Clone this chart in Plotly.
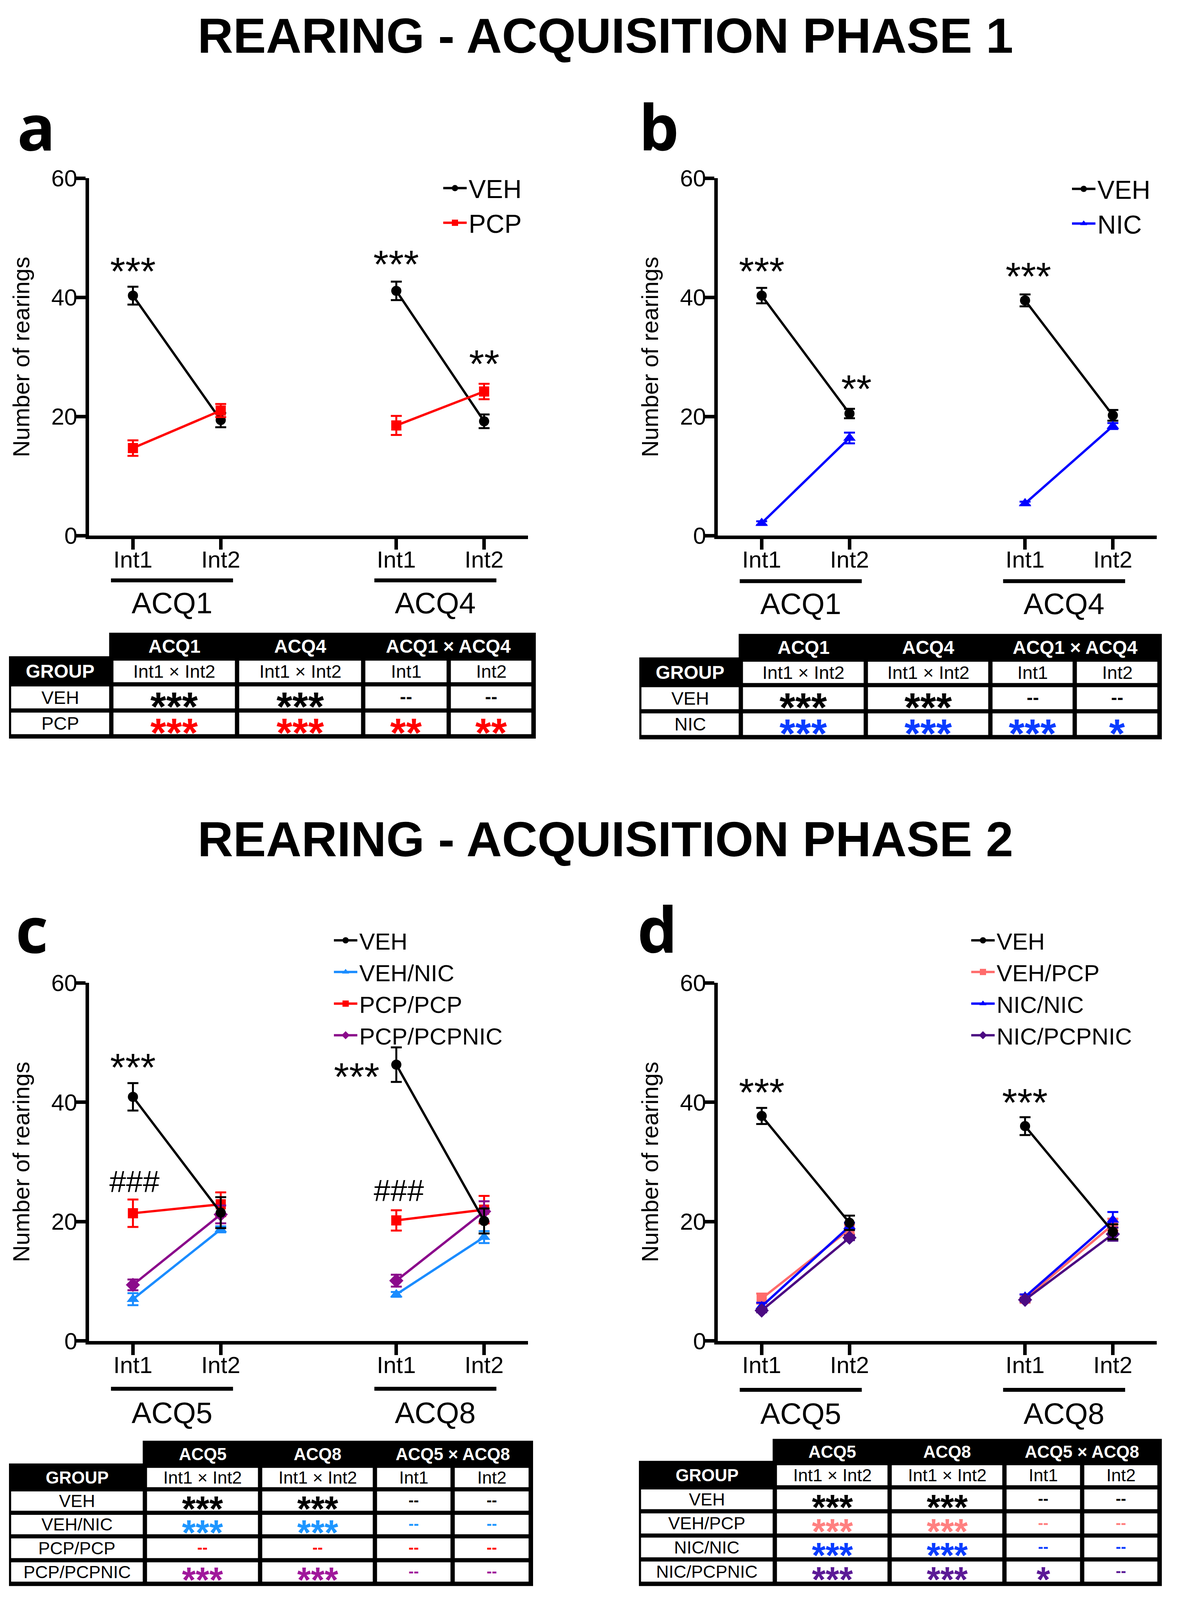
import plotly.graph_objects as go

W, H = 3019, 4222          # reference frame used for all positions
H_LAYOUT = 4100            # visible page height inside the browser window
FONT = "Liberation Sans, Arial, Helvetica, sans-serif"
LETTER_FONT = "Open Sans, Liberation Sans, sans-serif"

# ------------------------------------------------------------------ data
positions = [1, 2, 4, 5]
tick_labels = ["Int1", "Int2", "Int1", "Int2"]

# panel a  (ACQ1, ACQ4)
a_sessions = ["ACQ1", "ACQ4"]
a_veh = [40.3, 19.4, 41.1, 19.2]
a_veh_err = [1.5, 1.2, 1.55, 1.15]
a_pcp = [14.7, 21.0, 18.5, 24.2]
a_pcp_err = [1.3, 1.1, 1.6, 1.3]

# panel b  (ACQ1, ACQ4)
b_sessions = ["ACQ1", "ACQ4"]
b_veh = [40.3, 20.5, 39.5, 20.2]
b_veh_err = [1.3, 0.8, 1.0, 0.9]
b_nic = [2.1, 16.4, 5.4, 18.4]
b_nic_err = [0.3, 0.9, 0.3, 0.5]

# panel c  (ACQ5, ACQ8)
c_sessions = ["ACQ5", "ACQ8"]
c_veh = [40.9, 21.5, 46.3, 20.1]
c_veh_err = [2.3, 2.6, 2.9, 2.1]
c_vehnic = [7.0, 18.7, 7.8, 17.4]
c_vehnic_err = [1.0, 0.5, 0.4, 1.0]
c_pcppcp = [21.4, 22.9, 20.2, 22.0]
c_pcppcp_err = [2.3, 2.0, 1.7, 2.3]
c_pcppcpnic = [9.4, 21.2, 10.1, 21.7]
c_pcppcpnic_err = [0.9, 1.5, 1.0, 1.7]

# panel d  (ACQ5, ACQ8)
d_sessions = ["ACQ5", "ACQ8"]
d_veh = [37.7, 19.8, 36.0, 18.3]
d_veh_err = [1.35, 1.2, 1.5, 1.25]
d_vehpcp = [7.1, 18.7, 7.1, 19.5]
d_vehpcp_err = [0.85, 0.8, 0.7, 1.0]
d_nicnic = [5.8, 19.2, 7.4, 20.3]
d_nicnic_err = [0.6, 0.6, 0.4, 1.3]
d_nicpcpnic = [5.1, 17.3, 6.9, 17.9]
d_nicpcpnic_err = [0.3, 0.4, 0.3, 1.1]

# significance marks on the plots
a_sig_text = ["***", "***", "**"]
a_sig_x = [1, 4, 5]
a_sig_y = [45.9, 47.1, 30.4]
b_sig_text = ["***", "**", "***"]
b_sig_x = [1, 2.08, 4.04]
b_sig_y = [45.9, 26.2, 45.1]
c_sig_text = ["***", "###", "***", "###"]
c_sig_x = [1, 1.02, 3.55, 4.03]
c_sig_y = [47.4, 26.7, 45.8, 25.2]
d_sig_text = ["***", "***"]
d_sig_x = [1, 4]
d_sig_y = [43.2, 41.5]

# tables
a_tab_headers = ["ACQ1", "ACQ4", "ACQ1 × ACQ4"]
a_tab_sub = ["Int1 × Int2", "Int1 × Int2", "Int1", "Int2"]
a_tab_groups = ["VEH", "PCP"]
a_tab_sig = [["***", "***", "--", "--"], ["***", "***", "**", "**"]]
a_tab_colors = ["#000000", "#FF0000"]

b_tab_headers = ["ACQ1", "ACQ4", "ACQ1 × ACQ4"]
b_tab_sub = ["Int1 × Int2", "Int1 × Int2", "Int1", "Int2"]
b_tab_groups = ["VEH", "NIC"]
b_tab_sig = [["***", "***", "--", "--"], ["***", "***", "***", "*"]]
b_tab_colors = ["#000000", "#0A3CFF"]

c_tab_headers = ["ACQ5", "ACQ8", "ACQ5 × ACQ8"]
c_tab_sub = ["Int1 × Int2", "Int1 × Int2", "Int1", "Int2"]
c_tab_groups = ["VEH", "VEH/NIC", "PCP/PCP", "PCP/PCPNIC"]
c_tab_sig = [["***", "***", "--", "--"], ["***", "***", "--", "--"],
             ["--", "--", "--", "--"], ["***", "***", "--", "--"]]
c_tab_colors = ["#000000", "#1E96FF", "#FF0000", "#A0189B"]

d_tab_headers = ["ACQ5", "ACQ8", "ACQ5 × ACQ8"]
d_tab_sub = ["Int1 × Int2", "Int1 × Int2", "Int1", "Int2"]
d_tab_groups = ["VEH", "VEH/PCP", "NIC/NIC", "NIC/PCPNIC"]
d_tab_sig = [["***", "***", "--", "--"], ["***", "***", "--", "--"],
             ["***", "***", "--", "--"], ["***", "***", "*", "--"]]
d_tab_colors = ["#000000", "#FF8080", "#0A3CFF", "#5B1A96"]

# ------------------------------------------------------------------ helpers
def xp(px):
    return px / W


def yp(py):
    return 1 - py / H


def gapped(vals, fill=None):
    return list(vals[:2]) + [fill] + list(vals[2:])


fig = go.Figure()

PANELS = [
    dict(idx=1, x=(228, 1352), y=(470, 1412), legend="legend", sessions=a_sessions,
         bar_y=1530, lab_y=1589,
         series=[("VEH", a_veh, a_veh_err, "#000000", "circle", 1),
                 ("PCP", a_pcp, a_pcp_err, "#FF0000", "square", 2)],
         sig=(a_sig_text, a_sig_x, a_sig_y)),
    dict(idx=2, x=(1838, 2962), y=(470, 1412), legend="legend2", sessions=b_sessions,
         bar_y=1532, lab_y=1591,
         series=[("VEH", b_veh, b_veh_err, "#000000", "circle", 1),
                 ("NIC", b_nic, b_nic_err, "#0000FF", "triangle-up", 2)],
         sig=(b_sig_text, b_sig_x, b_sig_y)),
    dict(idx=3, x=(228, 1352), y=(2591, 3535), legend="legend3", sessions=c_sessions,
         bar_y=3661, lab_y=3724,
         series=[("VEH/NIC", c_vehnic, c_vehnic_err, "#1A8CFF", "triangle-up", 2),
                 ("PCP/PCP", c_pcppcp, c_pcppcp_err, "#FF0000", "square", 3),
                 ("PCP/PCPNIC", c_pcppcpnic, c_pcppcpnic_err, "#8B0A8B", "diamond", 4),
                 ("VEH", c_veh, c_veh_err, "#000000", "circle", 1)],
         sig=(c_sig_text, c_sig_x, c_sig_y)),
    dict(idx=4, x=(1838, 2962), y=(2591, 3535), legend="legend4", sessions=d_sessions,
         bar_y=3664, lab_y=3726,
         series=[("VEH/PCP", d_vehpcp, d_vehpcp_err, "#FF6B6B", "square", 2),
                 ("NIC/NIC", d_nicnic, d_nicnic_err, "#0000FF", "triangle-up", 3),
                 ("NIC/PCPNIC", d_nicpcpnic, d_nicpcpnic_err, "#4B0A82", "diamond", 4),
                 ("VEH", d_veh, d_veh_err, "#000000", "circle", 1)],
         sig=(d_sig_text, d_sig_x, d_sig_y)),
]

shapes = []
annotations = []
layout_axes = {}

for p in PANELS:
    sfx = "" if p["idx"] == 1 else str(p["idx"])
    for name, vals, errs, color, symbol, rank in p["series"]:
        fig.add_trace(go.Scatter(
            x=gapped(positions), y=gapped(vals), mode="lines+markers", name=name,
            line=dict(color=color, width=6),
            marker=dict(color=color, size=26 if symbol in ("circle", "square") else 28,
                        symbol=symbol, line=dict(width=0)),
            error_y=dict(type="data", array=gapped(errs, 0), visible=True,
                         thickness=5, width=14, color=color),
            xaxis="x" + sfx, yaxis="y" + sfx, legend=p["legend"], legendrank=rank,
            connectgaps=False, cliponaxis=False,
        ))
    layout_axes["xaxis" + sfx] = dict(
        domain=[xp(p["x"][0]), xp(p["x"][1])], range=[0.5, 5.5], anchor="y" + sfx,
        tickmode="array", tickvals=positions, ticktext=tick_labels,
        ticks="outside", ticklen=27, tickwidth=9, tickcolor="black", ticklabelstandoff=-26,
        showline=True, linewidth=9, linecolor="black", showgrid=False, zeroline=False,
        tickfont=dict(family=FONT, size=60, color="black"), fixedrange=True, automargin=False,
    )
    layout_axes["yaxis" + sfx] = dict(
        domain=[yp(p["y"][1]), yp(p["y"][0])], range=[0, 60], anchor="x" + sfx,
        tickmode="array", tickvals=[0, 20, 40, 60],
        ticks="outside", ticklen=27, tickwidth=9, tickcolor="black", ticklabelstandoff=-18,
        showline=True, linewidth=9, linecolor="black", showgrid=False, zeroline=False,
        tickfont=dict(family=FONT, size=60, color="black"),
        title=dict(text="Number of rearings", font=dict(family=FONT, size=60, color="black"),
                   standoff=40),
        fixedrange=True, automargin=False,
    )
    # session brackets and labels under the x axis
    for k, sess in enumerate(p["sessions"]):
        p1, p2 = positions[2 * k], positions[2 * k + 1]
        x0, x1 = p1 - 0.25, p2 + 0.14
        shapes.append(dict(type="line", xref="x" + sfx, yref="paper", x0=x0, x1=x1,
                           y0=yp(p["bar_y"]), y1=yp(p["bar_y"]),
                           line=dict(color="black", width=10)))
        annotations.append(dict(text=sess, xref="x" + sfx, yref="paper", x=(x0 + x1) / 2,
                                y=yp(p["lab_y"]), showarrow=False, xanchor="center",
                                yanchor="middle",
                                font=dict(family=FONT, size=76, color="black")))
    # significance marks
    texts, xs, ys = p["sig"]
    for t, xv, yv in zip(texts, xs, ys):
        if "*" in t:
            size, shift = 100, -23
        else:
            size, shift = 77, 0
        annotations.append(dict(text=t, xref="x" + sfx, yref="y" + sfx, x=xv, y=yv,
                                showarrow=False, xanchor="center", yanchor="middle",
                                yshift=shift,
                                font=dict(family=FONT, size=size, color="black")))

# ------------------------------------------------------------------ legends
legend_common = dict(xanchor="left", yanchor="top", bgcolor="rgba(0,0,0,0)",
                     borderwidth=0, itemwidth=60, tracegroupgap=0, traceorder="normal")
legends = {
    "legend": dict(x=xp(1130), y=yp(445), font=dict(family=FONT, size=66, color="black"), **legend_common),
    "legend2": dict(x=xp(2740), y=yp(447), font=dict(family=FONT, size=66, color="black"), **legend_common),
    "legend3": dict(x=xp(850), y=yp(2432), font=dict(family=FONT, size=60, color="black"), **legend_common),
    "legend4": dict(x=xp(2482), y=yp(2432), font=dict(family=FONT, size=60, color="black"), **legend_common),
}

# ------------------------------------------------------------------ titles and panel letters
for text, ycen in [("REARING - ACQUISITION PHASE 1", 94), ("REARING - ACQUISITION PHASE 2", 2212)]:
    annotations.append(dict(text="<b>" + text + "</b>", xref="paper", yref="paper",
                            x=xp(1550), y=yp(ycen), showarrow=False, xanchor="center",
                            yanchor="middle", font=dict(family=FONT, size=126, color="black")))

for letter, lx, ly in [("a", 42, 332), ("b", 1634, 332), ("c", 38, 2447), ("d", 1630, 2447)]:
    annotations.append(dict(text="<b>" + letter + "</b>", xref="paper", yref="paper",
                            x=xp(lx), y=yp(ly), showarrow=False, xanchor="left",
                            yanchor="middle",
                            font=dict(family=LETTER_FONT, size=162, color="black")))

# ------------------------------------------------------------------ tables
TABLES = [
    dict(colb=[23, 285, 607, 930, 1149, 1366], rowb=[1736, 1804, 1873, 1941], top=1668,
         headers=a_tab_headers, sub=a_tab_sub, groups=a_tab_groups, sig=a_tab_sig,
         colors=a_tab_colors, fs=47, hfs=48, star=104, dash=47),
    dict(colb=[1637, 1897, 2217, 2536, 2752, 2969], rowb=[1739, 1806, 1875, 1943], top=1671,
         headers=b_tab_headers, sub=b_tab_sub, groups=b_tab_groups, sig=b_tab_sig,
         colors=b_tab_colors, fs=47, hfs=48, star=104, dash=47),
    dict(colb=[23, 371, 666, 960, 1159, 1359], rowb=[3864, 3926, 3988, 4050, 4113, 4175], top=3798,
         headers=c_tab_headers, sub=c_tab_sub, groups=c_tab_groups, sig=c_tab_sig,
         colors=c_tab_colors, fs=45, hfs=44, star=90, dash=40),
    dict(colb=[1636, 1984, 2278, 2572, 2771, 2969], rowb=[3857, 3921, 3984, 4048, 4111, 4175], top=3793,
         headers=d_tab_headers, sub=d_tab_sub, groups=d_tab_groups, sig=d_tab_sig,
         colors=d_tab_colors, fs=45, hfs=44, star=90, dash=40),
]

INSET = 5.5


def rect(x0, y0, x1, y1, color):
    shapes.append(dict(type="rect", xref="paper", yref="paper",
                       x0=xp(x0), x1=xp(x1), y0=yp(y1), y1=yp(y0),
                       fillcolor=color, line=dict(width=0), layer="above"))


def cell_text(text, xc, yc, size, color, bold=False, shift=0):
    annotations.append(dict(text=("<b>" + text + "</b>") if bold else text,
                            xref="paper", yref="paper", x=xp(xc), y=yp(yc),
                            showarrow=False, xanchor="center", yanchor="middle", yshift=shift,
                            font=dict(family=FONT, size=size, color=color)))


for t in TABLES:
    cb, rb = t["colb"], t["rowb"]
    rect(cb[1] - INSET, t["top"], cb[-1] + 6, rb[0] + INSET + 1, "black")
    rect(cb[0], rb[0] - 6, cb[-1] + 6, rb[-1] + 6, "black")
    spans = [(cb[1], cb[2]), (cb[2], cb[3]), (cb[3], cb[5])]
    for htxt, (s0, s1) in zip(t["headers"], spans):
        cell_text(htxt, (s0 + s1) / 2, (t["top"] + rb[0]) / 2 + 2, t["hfs"], "white", bold=True)
    cell_text("GROUP", (cb[0] + cb[1]) / 2, (rb[0] + rb[1]) / 2, t["hfs"], "white", bold=True)
    for c, stxt in enumerate(t["sub"]):
        c0, c1 = cb[c + 1], cb[c + 2]
        rect(c0 + INSET, rb[0] + INSET, c1 - INSET, rb[1] - INSET, "white")
        cell_text(stxt, (c0 + c1) / 2, (rb[0] + rb[1]) / 2, t["fs"], "black")
    for r, (g, row, col) in enumerate(zip(t["groups"], t["sig"], t["colors"])):
        r0, r1 = rb[r + 1], rb[r + 2]
        rect(cb[0] + INSET, r0 + INSET, cb[1] - INSET, r1 - INSET, "white")
        cell_text(g, (cb[0] + cb[1]) / 2, (r0 + r1) / 2, t["fs"], "black")
        for c, s in enumerate(row):
            c0, c1 = cb[c + 1], cb[c + 2]
            rect(c0 + INSET, r0 + INSET, c1 - INSET, r1 - INSET, "white")
            if "*" in s:
                cell_text(s, (c0 + c1) / 2, (r0 + r1) / 2, t["star"], col, bold=True,
                          shift=-0.23 * t["star"])
            else:
                cell_text(s, (c0 + c1) / 2, (r0 + r1) / 2, t["dash"], col, bold=True,
                          shift=0.06 * t["dash"])

fig.update_layout(
    width=W, height=H_LAYOUT, autosize=False,
    margin=dict(l=0, r=0, t=0, b=0, pad=0, autoexpand=False),
    paper_bgcolor="white", plot_bgcolor="white",
    font=dict(family=FONT, color="black"),
    showlegend=True, shapes=shapes, annotations=annotations,
    **layout_axes, **legends,
)

fig.write_html("out.html", config={"displayModeBar": False},
               post_script="document.body.style.margin='0px';")
